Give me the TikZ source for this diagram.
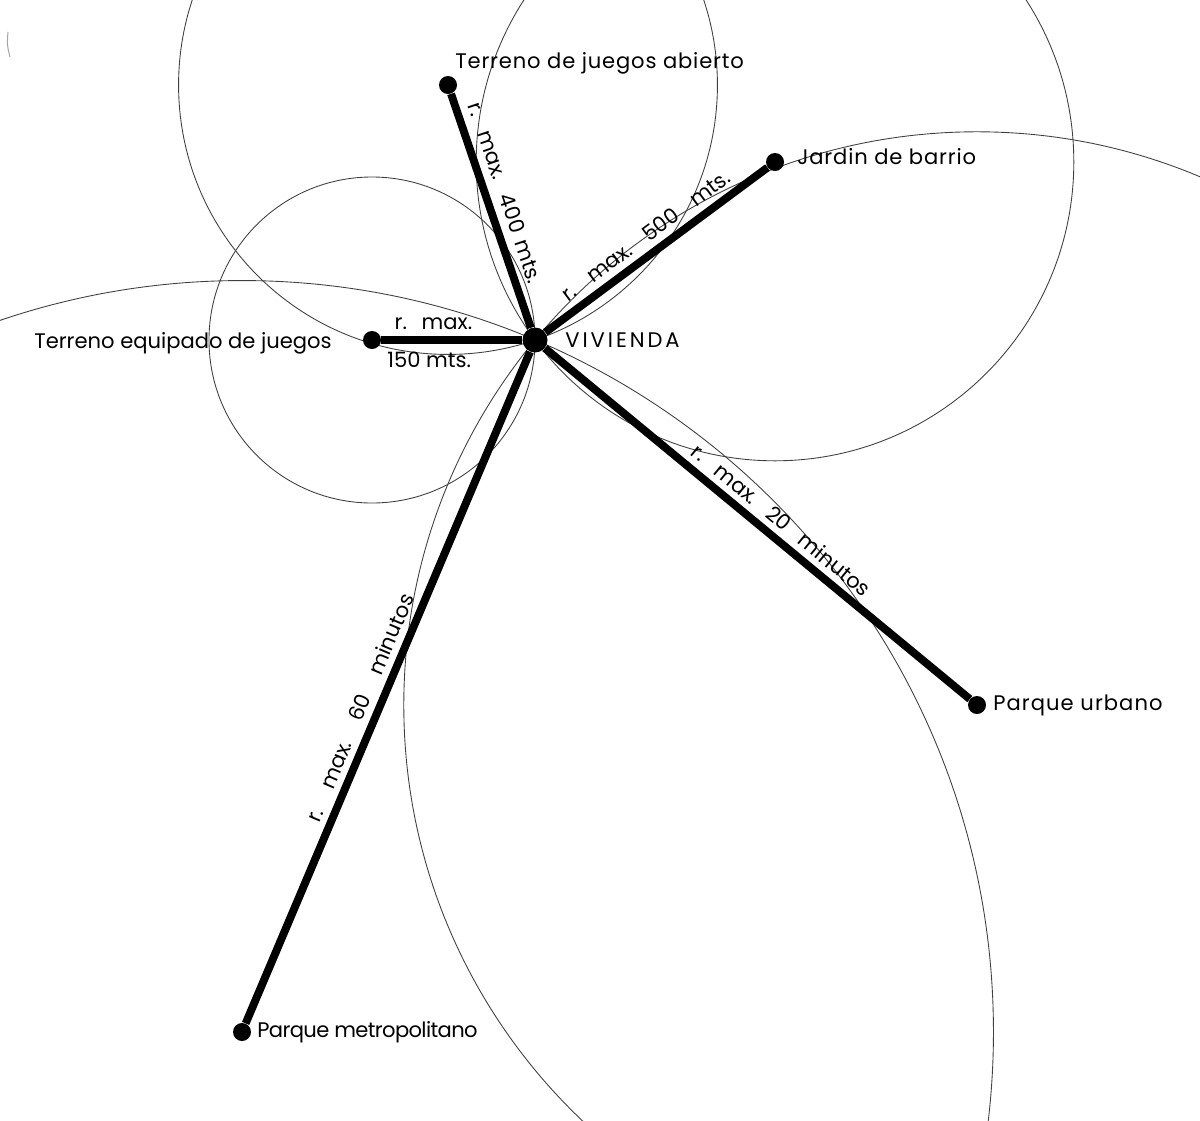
\documentclass[tikz,border=0pt]{standalone}
\usepackage{fontspec}
\setmainfont{Poppins}
\usetikzlibrary{calc}
\pgfdeclarelayer{bg}
\pgfsetlayers{bg,main}
\newcommand{\wgap}[1]{\hspace{#1em}}
\begin{document}
\begin{tikzpicture}[x=0.02cm,y=-0.02cm,
  enddot/.style={circle,fill=black,inner sep=0pt,minimum size=0.36cm},
  hubdot/.style={circle,fill=black,inner sep=0pt,minimum size=0.5cm},
  spoke/.style={line width=4.5pt,black},
  ring/.style={line width=0.5pt,black!75},
  lbl/.style={font=\fontsize{12}{14}\selectfont,inner sep=0pt},
  rlbl/.style={font=\fontsize{12}{14}\selectfont,sloped,inner sep=3.5pt}]
\useasboundingbox (0,0) rectangle (1200,1120);
% nodes
\node[hubdot] (viv) at (535,340) {};
\node[enddot] (equip) at (372,340) {};
\node[enddot] (abierto) at (448,85) {};
\node[enddot] (jardin) at (775,162) {};
\node[enddot] (urbano) at (977,705) {};
\node[enddot] (metro) at (242,1032) {};
\begin{pgfonlayer}{bg}
% radius circles
\begin{scope}
\clip (0,0) rectangle (1200,1120);
\foreach \c in {equip,abierto,jardin,urbano,metro}{
  \draw[ring] let \p1=($(viv.center)-(\c.center)$), \n1={veclen(\x1,\y1)} in (\c.center) circle [radius=\n1];
}
\end{scope}
% stray mark
\draw[black!35,line width=0.6pt] (8,32) .. controls (7,45) .. (10,57);
% spokes
\draw[spoke] (equip) -- (viv)
  node[rlbl,pos=0.37,above] {r.\wgap{0.7}max.}
  node[rlbl,pos=0.34,below,inner sep=4.5pt] {150 mts.};
\draw[spoke] (abierto) -- (viv)
  node[rlbl,pos=0.45,above,inner sep=4.5pt] {r.\wgap{0.8}max.\wgap{0.8}400\wgap{0.4}mts.};
\draw[spoke] (viv) -- (jardin)
  node[rlbl,pos=0.5,above] {r.\wgap{0.9}max.\wgap{0.9}500\wgap{0.9}mts.};
\draw[spoke] (viv) -- (urbano)
  node[rlbl,pos=0.53,above] {r.\wgap{0.8}max.\wgap{0.8}20\wgap{0.8}minutos};
\draw[spoke] (metro) -- (viv)
  node[rlbl,pos=0.46,above] {r.\wgap{1.1}max.\wgap{1.1}60\wgap{1.1}minutos};
\end{pgfonlayer}
% labels
\node[lbl,anchor=base west,font=\fontsize{12}{14}\selectfont\addfontfeatures{LetterSpace=14}] (lviv) at (565,347) {VIVIENDA};
\node[lbl,anchor=base east] (lequip) at (332,348) {Terreno equipado de juegos};
\node[lbl,anchor=base west,font=\fontsize{12}{14}\selectfont\addfontfeatures{LetterSpace=4}] (labierto) at (455,68) {Terreno de juegos abierto};
\node[lbl,anchor=base west,font=\fontsize{12}{14}\selectfont\addfontfeatures{LetterSpace=4}] (ljardin) at (797,164) {Jardin de barrio};
\node[lbl,anchor=base west,font=\fontsize{12}{14}\selectfont\addfontfeatures{LetterSpace=5}] (lurbano) at (993,710) {Parque urbano};
\node[lbl,anchor=base west,font=\fontsize{12}{14}\selectfont\addfontfeatures{LetterSpace=-3}] (lmetro) at (257,1037) {Parque metropolitano};
\end{tikzpicture}
\end{document}
